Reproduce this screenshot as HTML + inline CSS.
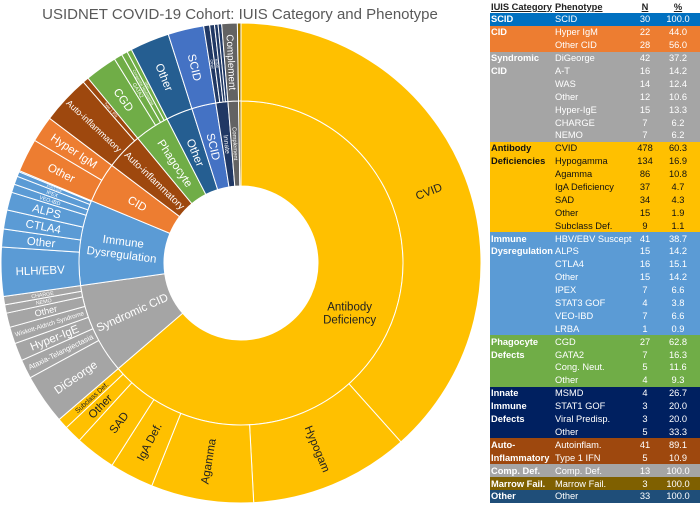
<!DOCTYPE html>
<html><head><meta charset="utf-8"><style>
body{margin:0;width:700px;height:509px;background:#fff;overflow:hidden;font-family:"Liberation Sans",sans-serif;position:relative}
#chart{position:absolute;left:0;top:0}
#tbl{position:absolute;left:490px;top:0;width:210px;border-collapse:collapse;font-size:9.3px;font-family:"Liberation Sans",sans-serif;table-layout:fixed}
#tbl td{height:12.9px;padding:0 0 0 1px;line-height:12px;white-space:nowrap;overflow:hidden;color:#fff}
#tbl td.c{font-weight:bold}
#tbl td.n,#tbl td.p{text-align:center;padding:0}
#tbl tr.h td{color:#222;font-weight:bold;text-decoration:underline;height:13px}
</style></head><body>
<svg id="chart" width="490" height="509" xmlns="http://www.w3.org/2000/svg">
<text x="240" y="19" text-anchor="middle" font-size="15" fill="#595959" font-family="Liberation Sans, sans-serif">USIDNET COVID-19 Cohort:  IUIS Category and Phenotype</text>
<g id="rings"></g>
</svg>
<table id="tbl"><colgroup><col style="width:64px"><col style="width:80px"><col style="width:22px"><col style="width:44px"></colgroup></table>
<script>
const categories=["Antibody Deficiency","Syndromic CID","Immune Dysregulation","CID","Auto-inflammatory","Phagocyte","Other","SCID","Innate","Complement","Marrow"];
const catColors=["#FFC000","#A5A5A5","#5B9BD5","#ED7D31","#9E480E","#70AD47","#255E91","#4472C4","#203864","#636363","#997300"];
const phenoNames=[
["CVID","Hypogam","Agamma","IgA Def.","SAD","Other","Subclass Def."],
["DiGeorge","Ataxia-Telangiectasia","Hyper-IgE","Wiskott-Aldrich Syndrome","Other","NEMO","CHARGE"],
["HLH/EBV","Other","CTLA4","ALPS","VEO-IBD","IPEX","STAT3 GOF","LRBA"],
["Other","Hyper IgM"],
["Auto-inflammatory","Type 1 IFN"],
["CGD","GATA2","Congenital Neutropenia","Other"],
["Other"],["SCID"],
["Other","MSMD","STAT1 GOF","Viral Predisp."],
["Complement"],["Marrow"]];
const phenoValues=[[478,134,86,37,34,15,9],[42,16,15,14,12,7,7],[41,15,16,15,7,7,4,1],[28,22],[41,5],[27,7,5,4],[33],[30],[5,4,3,3],[13],[3]];
const tableRows=[
["SCID","SCID",30,"100.0","#0070C0"],
["CID","Hyper IgM",22,"44.0","#ED7D31"],["","Other CID",28,"56.0","#ED7D31"],
["Syndromic","DiGeorge",42,"37.2","#A5A5A5"],["CID","A-T",16,"14.2","#A5A5A5"],["","WAS",14,"12.4","#A5A5A5"],["","Other",12,"10.6","#A5A5A5"],["","Hyper-IgE",15,"13.3","#A5A5A5"],["","CHARGE",7,"6.2","#A5A5A5"],["","NEMO",7,"6.2","#A5A5A5"],
["Antibody","CVID",478,"60.3","#FFC000"],["Deficiencies","Hypogamma",134,"16.9","#FFC000"],["","Agamma",86,"10.8","#FFC000"],["","IgA Deficiency",37,"4.7","#FFC000"],["","SAD",34,"4.3","#FFC000"],["","Other",15,"1.9","#FFC000"],["","Subclass Def.",9,"1.1","#FFC000"],
["Immune","HBV/EBV Suscept",41,"38.7","#5B9BD5"],["Dysregulation","ALPS",15,"14.2","#5B9BD5"],["","CTLA4",16,"15.1","#5B9BD5"],["","Other",15,"14.2","#5B9BD5"],["","IPEX",7,"6.6","#5B9BD5"],["","STAT3 GOF",4,"3.8","#5B9BD5"],["","VEO-IBD",7,"6.6","#5B9BD5"],["","LRBA",1,"0.9","#5B9BD5"],
["Phagocyte","CGD",27,"62.8","#70AD47"],["Defects","GATA2",7,"16.3","#70AD47"],["","Cong. Neut.",5,"11.6","#70AD47"],["","Other",4,"9.3","#70AD47"],
["Innate","MSMD",4,"26.7","#002060"],["Immune","STAT1 GOF",3,"20.0","#002060"],["Defects","Viral Predisp.",3,"20.0","#002060"],["","Other",5,"33.3","#002060"],
["Auto-","Autoinflam.",41,"89.1","#9E480E"],["Inflammatory","Type 1 IFN",5,"10.9","#9E480E"],
["Comp. Def.","Comp. Def.",13,"100.0","#A5A5A5"],
["Marrow Fail.","Marrow Fail.",3,"100.0","#7F6000"],
["Other","Other",33,"100.0","#1F4E79"]];

const CX=241,CY=263,R0=77,R1=162,R2=240;
const NS="http://www.w3.org/2000/svg";
const g=document.getElementById('rings');
const total=phenoValues.flat().reduce((a,b)=>a+b,0);
const ang=v=>v/total*2*Math.PI;
function pt(r,a){return [CX+r*Math.sin(a),CY-r*Math.cos(a)];}
function arc(r1,r2,a1,a2){
  const l=(a2-a1)>Math.PI?1:0;
  const p1=pt(r2,a1),p2=pt(r2,a2),p3=pt(r1,a2),p4=pt(r1,a1);
  return `M${p1}A${r2},${r2} 0 ${l} 1 ${p2}L${p3}A${r1},${r1} 0 ${l} 0 ${p4}Z`;
}
function label(txt,r1,r2,a1,a2,color,name,flat){
  const am=(a1+a2)/2, rm=(r1+r2)/2;
  const [x,y]=pt(rm,am);
  let deg=am*180/Math.PI-90; if(deg>90)deg-=180;
  if(flat)deg=0;
  const span=(a2-a1)*rm;
  let fs=Math.min(11.5,span*0.75);
  if(fs<3)return;
  const lines=txt.split('\n');
  const t=document.createElementNS(NS,'text');
  
  
  t.setAttribute('transform',`translate(${x},${y}) rotate(${deg})`);
  t.setAttribute('text-anchor','middle');
  t.setAttribute('font-size',fs);
  t.setAttribute('fill',color);
  lines.forEach((ln,i)=>{
    const s=document.createElementNS(NS,'tspan');
    s.setAttribute('x',0);
    s.setAttribute('y',(i-(lines.length-1)/2)*fs*1.15+fs*0.35);
    s.textContent=ln;t.appendChild(s);
  });
  g.appendChild(t);
  const w=t.getBBox().width;
  const max=flat?9999:(r2-r1)-6;
  if(w>max){const f=fs*max/w;t.setAttribute('font-size',f);
    [...t.children].forEach((s,i)=>{s.setAttribute('y',(i-(lines.length-1)/2)*f*1.15+f*0.35);});}
}
let a=0;
categories.forEach((c,ci)=>{
  const vals=phenoValues[ci];
  const sum=vals.reduce((x,y)=>x+y,0);
  const a1=a,a2=a+ang(sum);
  const p=document.createElementNS(NS,'path');
  p.setAttribute('d',arc(R0,R1,a1,a2));p.setAttribute('fill',catColors[ci]);
  p.setAttribute('stroke','#fff');p.setAttribute('stroke-width','1');
  
  
  g.appendChild(p);
  const tc=ci===0?'#222':'#fff';
  label(ci===0?'Antibody\nDeficiency':ci===2?'Immune\nDysregulation':c,R0,R1,a1,a2,tc,'category-label',ci===0);
  let b=a1;
  vals.forEach((v,vi)=>{
    const b2=b+ang(v);
    const q=document.createElementNS(NS,'path');
    q.setAttribute('d',arc(R1,R2,b,b2));q.setAttribute('fill',catColors[ci]);
    q.setAttribute('stroke','#fff');q.setAttribute('stroke-width','1');
    
    
    g.appendChild(q);
    label(phenoNames[ci][vi],R1,R2,b,b2,tc,'phenotype-label',false);
    b=b2;
  });
  a=a2;
});

const tb=document.getElementById('tbl');
const hr=document.createElement('tr');hr.className='h';


hr.innerHTML='<td>IUIS Category</td><td>Phenotype</td><td class="n">N</td><td class="p">%</td>';
tb.appendChild(hr);
tableRows.forEach(r=>{
  const tr=document.createElement('tr');
  
  
  tr.style.background=r[4];
  const col=r[4]==='#FFC000'?'#111':'#fff';
  tr.innerHTML=`<td class="c" style="color:${col}">${r[0]}</td><td style="color:${col}">${r[1]}</td><td class="n" style="color:${col}">${r[2]}</td><td class="p" style="color:${col}">${r[3]}</td>`;
  tb.appendChild(tr);
});
</script>
</body></html>
